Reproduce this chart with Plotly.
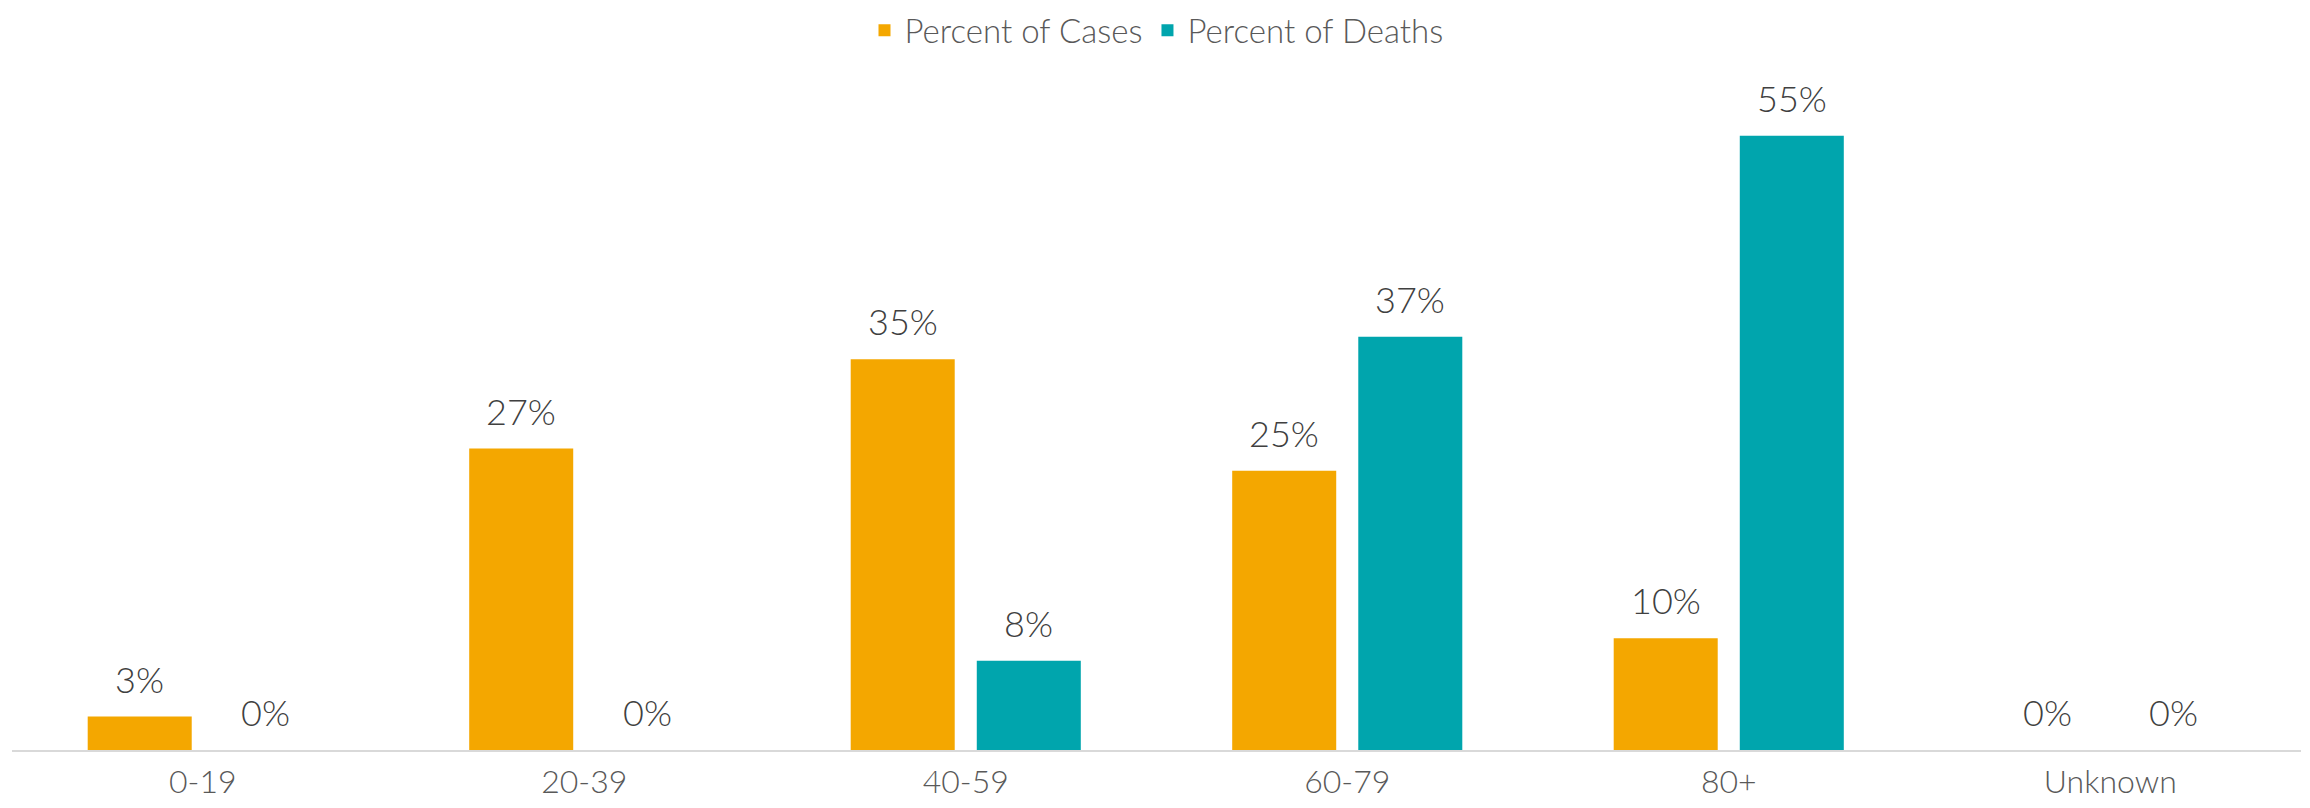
import plotly.graph_objects as go

categories = ["0-19", "20-39", "40-59", "60-79", "80+", "Unknown"]
cases_pct = [3, 27, 35, 25, 10, 0]
deaths_pct = [0, 0, 8, 37, 55, 0]
series_names = ["Percent of Cases", "Percent of Deaths"]
series_colors = ["#F4A700", "#00A5AD"]

FONT = "Lato"
LABEL_COLOR = "#404040"
AXIS_TEXT = "#595959"

fig = go.Figure()
for name, vals, col in zip(series_names, [cases_pct, deaths_pct], series_colors):
    fig.add_trace(go.Bar(
        name=name, x=categories, y=vals, marker=dict(color=col, line=dict(width=0)),
        hoverinfo="x+y",
    ))

annotations = []
for vals, shift in [(cases_pct, -63), (deaths_pct, 63)]:
    for c, v in zip(categories, vals):
        annotations.append(dict(
            x=c, y=v, xref="x", yref="y", text=f"{v}%", showarrow=False,
            xshift=shift, yshift=14, yanchor="bottom",
            font=dict(family=FONT, size=36, color=LABEL_COLOR, weight=300),
        ))

# page body has an 8px margin; the figure is sized to fit inside it
fig.update_layout(
    width=2294, height=792,
    margin=dict(l=4, r=1, t=72, b=50, autoexpand=False),
    paper_bgcolor="white", plot_bgcolor="white",
    barmode="group", bargap=0.339, bargroupgap=0.175,
    font=dict(family=FONT, color=AXIS_TEXT),
    legend=dict(
        orientation="h", x=0.5, xanchor="center", y=1.074, yanchor="middle",
        font=dict(family=FONT, size=33, color=AXIS_TEXT, weight=300),
        itemwidth=30, bgcolor="rgba(0,0,0,0)",
    ),
    xaxis=dict(
        showline=True, linecolor="#D9D9D9", linewidth=2, showgrid=False,
        ticks="", tickfont=dict(family=FONT, size=32, color=AXIS_TEXT, weight=300),
        ticklabelstandoff=3, zeroline=False,
    ),
    yaxis=dict(range=[0, 60], visible=False, showgrid=False, zeroline=False),
    annotations=annotations,
)

fig.write_html("out.html")
